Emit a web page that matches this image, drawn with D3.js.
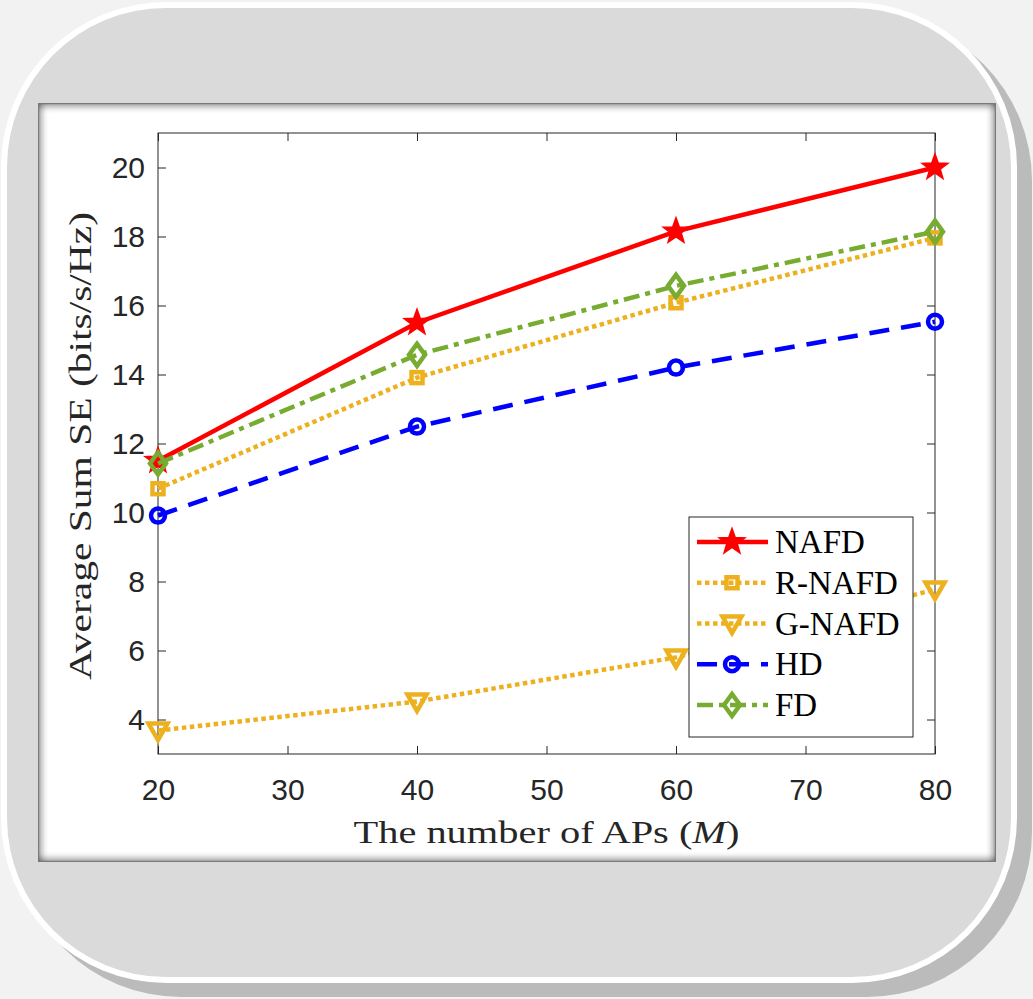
<!DOCTYPE html>
<html>
<head>
<meta charset="utf-8">
<script src="https://cdn.jsdelivr.net/npm/d3@7"></script>
<style>
  body { margin: 0; background: #f2f2f2; }
  svg { display: block; }
</style>
</head>
<body>
<div id="chartarea"></div>
<script>
// data
const apCounts = [20, 40, 60, 80];
const nafd = [11.5, 15.5, 18.15, 20.0];
const rNafd = [10.69, 13.91, 16.08, 17.96];
const gNafd = [3.68, 4.52, 5.8, 7.77];
const hd = [9.91, 12.49, 14.2, 15.53];
const fd = [11.42, 14.57, 16.57, 18.14];
const seriesNames = ['NAFD', 'R-NAFD', 'G-NAFD', 'HD', 'FD'];
const xTicks = [20, 30, 40, 50, 60, 70, 80];
const yTicks = [4, 6, 8, 10, 12, 14, 16, 18, 20];

const W = 1033, H = 999;
const plot = { left: 158, right: 935, top: 133, bottom: 754 };
const axisColor = '#262626';

const series = [
    { name: seriesNames[0], values: nafd, color: '#ff0000', dash: null, marker: 'star' },
    { name: seriesNames[1], values: rNafd, color: '#edb120', dash: '4.5 3.5', marker: 'square' },
    { name: seriesNames[2], values: gNafd, color: '#edb120', dash: '4.5 3.5', marker: 'triangle' },
    { name: seriesNames[3], values: hd, color: '#0000ff', dash: '20 12', marker: 'circle' },
    { name: seriesNames[4], values: fd, color: '#77ac30', dash: '16 6 5 6', marker: 'diamond' }
];

const starPath = () => {
    const pts = [];
    for (let i = 0; i < 10; i++) {
        const r = i % 2 === 0 ? 13.5 : 5.5;
        const a = -Math.PI / 2 + i * Math.PI / 5;
        pts.push([r * Math.cos(a), r * Math.sin(a)]);
    }
    return 'M' + pts.map(p => p.join(',')).join('L') + 'Z';
};

const drawMarker = (g, type, cx, cy, color) => {
    const m = g.append('g').attr('transform', `translate(${cx},${cy})`);
    const sw = 4.5;
    if (type === 'star') {
        m.append('path').attr('d', starPath())
            .attr('fill', color).attr('stroke', color).attr('stroke-width', 1.5);
    } else if (type === 'square') {
        m.append('rect').attr('x', -5.5).attr('y', -5.5).attr('width', 11).attr('height', 11)
            .attr('fill', 'none').attr('stroke', color).attr('stroke-width', sw);
    } else if (type === 'triangle') {
        m.append('path').attr('d', 'M-9.5,-7L9.5,-7L0,9.5Z')
            .attr('fill', 'none').attr('stroke', color).attr('stroke-width', sw);
    } else if (type === 'circle') {
        m.append('circle').attr('r', 7)
            .attr('fill', 'none').attr('stroke', color).attr('stroke-width', sw);
    } else if (type === 'diamond') {
        m.append('path').attr('d', 'M0,-11L8,0L0,11L-8,0Z')
            .attr('fill', 'none').attr('stroke', color).attr('stroke-width', sw);
    }
};

const svg = d3.select('#chartarea')
    .append('svg')
        .attr('width', W)
        .attr('height', H);

const defs = svg.append('defs');
const inner = defs.append('filter')
    .attr('id', 'innerShadow')
    .attr('x', '-5%').attr('y', '-5%').attr('width', '110%').attr('height', '110%');
inner.append('feFlood').attr('flood-color', '#1e1e1e').attr('result', 'flood');
inner.append('feComposite').attr('in', 'flood').attr('in2', 'SourceAlpha').attr('operator', 'out').attr('result', 'outside');
inner.append('feGaussianBlur').attr('in', 'outside').attr('stdDeviation', 5).attr('result', 'blur');
inner.append('feComposite').attr('in', 'blur').attr('in2', 'SourceAlpha').attr('operator', 'in');

//frame
svg.append('rect').attr('width', W).attr('height', H).attr('fill', '#f2f2f2');
svg.append('rect')
    .attr('x', 16).attr('y', 16).attr('width', 1016).attr('height', 981)
    .attr('rx', 165).attr('fill', '#bbbbbb');
svg.append('rect')
    .attr('x', 1).attr('y', 2).attr('width', 1016).attr('height', 981)
    .attr('rx', 165).attr('fill', '#ffffff');
svg.append('rect')
    .attr('x', 7).attr('y', 8).attr('width', 1004).attr('height', 969)
    .attr('rx', 159).attr('fill', '#dadada');

//panel
svg.append('rect')
    .attr('x', 38).attr('y', 103).attr('width', 958).attr('height', 759)
    .attr('fill', '#ffffff');
svg.append('rect')
    .attr('x', 38).attr('y', 103).attr('width', 958).attr('height', 759)
    .attr('fill', '#ffffff')
    .attr('filter', 'url(#innerShadow)');
svg.append('rect')
    .attr('x', 38.5).attr('y', 103.5).attr('width', 957).attr('height', 758)
    .attr('fill', 'none').attr('stroke', '#7a7a7a').attr('stroke-width', 1);

// scales
const x = d3.scaleLinear()
    .domain([20, 80])
    .range([plot.left, plot.right]);

const y = d3.scaleLinear()
    .domain([3, 21])
    .range([plot.bottom, plot.top]);

const group = svg.append('g');

const styleAxis = (g) => {
    g.selectAll('path').attr('stroke', axisColor).attr('stroke-width', 1);
    g.selectAll('line').attr('stroke', axisColor).attr('stroke-width', 1);
    g.selectAll('text')
        .attr('fill', axisColor)
        .attr('font-family', '"Liberation Sans", Arial, sans-serif')
        .attr('font-size', 30);
};

group.append('g')
    .attr('transform', `translate(0, ${plot.bottom})`)
    .call(d3.axisBottom(x).tickValues(xTicks).tickSizeInner(-8).tickSizeOuter(0).tickPadding(25))
    .call(styleAxis);

group.append('g')
    .attr('transform', `translate(0, ${plot.top})`)
    .call(d3.axisTop(x).tickValues(xTicks).tickSizeInner(-8).tickSizeOuter(0).tickFormat(''))
    .call(styleAxis);

group.append('g')
    .attr('transform', `translate(${plot.left}, 0)`)
    .call(d3.axisLeft(y).tickValues(yTicks).tickSizeInner(-8).tickSizeOuter(0).tickPadding(13))
    .call(styleAxis);

group.append('g')
    .attr('transform', `translate(${plot.right}, 0)`)
    .call(d3.axisRight(y).tickValues(yTicks).tickSizeInner(-8).tickSizeOuter(0).tickFormat(''))
    .call(styleAxis);

group.selectAll('.domain').remove();
group.append('rect')
    .attr('x', plot.left).attr('y', plot.top)
    .attr('width', plot.right - plot.left).attr('height', plot.bottom - plot.top)
    .attr('fill', 'none').attr('stroke', axisColor).attr('stroke-width', 1);

//x label
const xLabel = group.append('text')
    .attr('x', (plot.left + plot.right) / 2)
    .attr('y', 843)
    .attr('text-anchor', 'middle')
    .attr('font-family', '"Liberation Serif", "Times New Roman", serif')
    .attr('font-size', 32)
    .attr('fill', axisColor)
    .attr('textLength', 386)
    .attr('lengthAdjust', 'spacingAndGlyphs');
xLabel.append('tspan').text('The number of APs (');
xLabel.append('tspan').attr('font-style', 'italic').text('M');
xLabel.append('tspan').text(')');

//y label
group.append('text')
    .attr('transform', 'translate(91, 446) rotate(-90)')
    .attr('text-anchor', 'middle')
    .attr('font-family', '"Liberation Serif", "Times New Roman", serif')
    .attr('font-size', 32)
    .attr('fill', axisColor)
    .attr('textLength', 468)
    .attr('lengthAdjust', 'spacingAndGlyphs')
    .text('Average Sum SE (bits/s/Hz)');

// lines
const line = d3.line()
    .x((d, i) => x(apCounts[i]))
    .y(d => y(d));

series.forEach(s => {
    group.append('path')
        .datum(s.values)
        .attr('d', line)
        .attr('fill', 'none')
        .attr('stroke', s.color)
        .attr('stroke-width', 4.5)
        .attr('stroke-dasharray', s.dash);
    s.values.forEach((v, i) => drawMarker(group, s.marker, x(apCounts[i]), y(v), s.color));
});

// legend
const legend = svg.append('g');
legend.append('rect')
    .attr('x', 689).attr('y', 517).attr('width', 224).attr('height', 220)
    .attr('fill', '#ffffff').attr('stroke', axisColor).attr('stroke-width', 1);

const rowY = d3.scalePoint()
    .domain(seriesNames)
    .range([542, 705]);

series.forEach(s => {
    const cy = rowY(s.name);
    legend.append('line')
        .attr('x1', 697).attr('x2', 768)
        .attr('y1', cy).attr('y2', cy)
        .attr('stroke', s.color)
        .attr('stroke-width', 4.5)
        .attr('stroke-dasharray', s.dash);
    drawMarker(legend, s.marker, 732, cy, s.color);
    legend.append('text')
        .attr('x', 775)
        .attr('y', cy + 11)
        .attr('font-family', '"Liberation Serif", "Times New Roman", serif')
        .attr('font-size', 33)
        .attr('fill', '#000000')
        .text(s.name);
});
</script>
</body>
</html>
